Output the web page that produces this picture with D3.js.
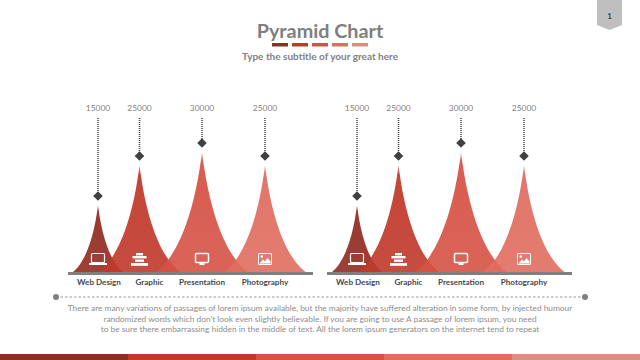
<!DOCTYPE html>
<html>
<head>
<meta charset="utf-8">
<script src="https://cdnjs.cloudflare.com/ajax/libs/d3/7.8.5/d3.min.js"></script>
<style>
  html, body { margin: 0; padding: 0; background: #fff; }
  svg { display: block; font-family: Lato, sans-serif; }
  .value { font-size: 8.4px; fill: #7f7f7f; text-anchor: middle; }
  .cat { font-size: 8.1px; font-weight: 700; fill: #44484f; text-anchor: middle; }
  .body { font-size: 8.35px; fill: #8c8c8c; text-anchor: middle; }
</style>
</head>
<body>
<svg class="chart" width="640" height="360"></svg>
<script>
var categories = ["Web Design", "Graphic", "Presentation", "Photography"];
var valuesLeft = [15000, 25000, 30000, 25000];
var valuesRight = [15000, 25000, 30000, 25000];
var colors = ["#922b21", "#c0392b", "#d65245", "#e06d60", "#e58a80"];
var bodyLines = [
  "There are many variations of passages of lorem ipsum available, but the majority have suffered alteration in some form, by injected humour",
  "randomized words which don't look even slightly believable. If you are going to use A passage of lorem ipsum, you need",
  "to be sure there embarrassing hidden in the middle of text. All the lorem ipsum generators on the internet tend to repeat"
];

var svg = d3.select(".chart");
var baseY = 273;

// peak heights in the picture are not proportional to the values
var y = d3.scaleLinear()
  .domain([0, 15000, 25000, 30000])
  .range([baseY, 205, 165, 152]);

var band = d3.scaleOrdinal()
  .domain(categories)
  .range([98, 139.5, 202, 265]);

// tips fade out a little towards the top
var defs = svg.append("defs");
colors.forEach(function(c, i) {
  var grad = defs.append("linearGradient")
    .attr("id", "fade" + i)
    .attr("x1", 0).attr("x2", 0).attr("y1", 0).attr("y2", 1);
  grad.append("stop").attr("offset", "0%").attr("stop-color", c).attr("stop-opacity", 0.45);
  grad.append("stop").attr("offset", "8%").attr("stop-color", c).attr("stop-opacity", 0.94);
  grad.append("stop").attr("offset", "100%").attr("stop-color", c).attr("stop-opacity", 0.9);
});

function spike(cx, top) {
  var h = baseY - top;
  var hw = h * 0.39;
  var p = d3.path();
  p.moveTo(cx - hw, baseY);
  p.bezierCurveTo(cx - hw * 0.6, baseY - h * 0.1, cx - hw * 0.18, baseY - h * 0.42, cx, top);
  p.bezierCurveTo(cx + hw * 0.18, baseY - h * 0.42, cx + hw * 0.6, baseY - h * 0.1, cx + hw, baseY);
  p.closePath();
  return p.toString();
}

function drawIcon(g, i) {
  var w = "#fff";
  if (i === 0) { // laptop
    g.append("rect").attr("x", -6.5).attr("y", -8.5).attr("width", 13).attr("height", 9).attr("rx", 1)
      .attr("fill", "none").attr("stroke", w).attr("stroke-width", 1.2);
    g.append("rect").attr("x", -9).attr("y", 1).attr("width", 18).attr("height", 2).attr("fill", w);
  } else if (i === 1) { // stacked bars
    g.append("rect").attr("x", -3.5).attr("y", -9).attr("width", 7).attr("height", 2.4).attr("fill", w);
    g.append("rect").attr("x", -7).attr("y", -6).attr("width", 14).attr("height", 2.4).attr("fill", w);
    g.append("rect").attr("x", -4.5).attr("y", -2.5).attr("width", 9).attr("height", 2.4).attr("fill", w);
    g.append("rect").attr("x", -8.5).attr("y", 1).attr("width", 17).attr("height", 2.8).attr("fill", w);
  } else if (i === 2) { // monitor
    g.append("rect").attr("x", -6.5).attr("y", -8.5).attr("width", 13).attr("height", 9).attr("rx", 1)
      .attr("fill", "none").attr("stroke", w).attr("stroke-width", 1.5);
    g.append("rect").attr("x", -2.5).attr("y", 1).attr("width", 5).attr("height", 2).attr("fill", w);
  } else { // picture
    g.append("rect").attr("x", -6.5).attr("y", -8.5).attr("width", 13).attr("height", 11).attr("rx", 0.5)
      .attr("fill", "none").attr("stroke", w).attr("stroke-width", 1);
    g.append("circle").attr("cx", -3.2).attr("cy", -5.5).attr("r", 1.2).attr("fill", w);
    g.append("path").attr("d", "M-5.5,1.5L-2,-2.5L0,-0.5L2.5,-4L5.5,-0.5L5.5,1.5Z").attr("fill", w);
  }
}

function drawPanel(offset, values) {
  var panel = svg.append("g").attr("transform", "translate(" + offset + ",0)");
  var rows = categories.map(function(c, i) {
    return { name: c, value: values[i], i: i };
  });

  panel.selectAll(".spike")
    .data(rows)
    .enter().append("path")
    .attr("class", "spike")
    .attr("d", function(d) { return spike(band(d.name), y(d.value)); })
    .attr("fill", function(d) { return "url(#fade" + d.i + ")"; });

  panel.append("rect")
    .attr("x", 68).attr("y", 272)
    .attr("width", 245).attr("height", 3)
    .attr("fill", "#7f7f7f");

  panel.selectAll(".stem")
    .data(rows)
    .enter().append("line")
    .attr("class", "stem")
    .attr("x1", function(d) { return band(d.name); })
    .attr("x2", function(d) { return band(d.name); })
    .attr("y1", 118)
    .attr("y2", function(d) { return y(d.value) - 8; })
    .attr("stroke", "#404040")
    .attr("stroke-width", 1.5)
    .attr("stroke-dasharray", "1 1");

  panel.selectAll(".tip")
    .data(rows)
    .enter().append("path")
    .attr("class", "tip")
    .attr("d", d3.symbol(d3.symbolSquare, 46))
    .attr("transform", function(d) {
      return "translate(" + band(d.name) + "," + (y(d.value) - 9) + ") rotate(45)";
    })
    .attr("fill", "#404040");

  panel.selectAll(".value")
    .data(rows)
    .enter().append("text")
    .attr("class", "value")
    .attr("x", function(d) { return band(d.name); })
    .attr("y", 111)
    .text(function(d) { return d.value; });

  panel.selectAll(".cat")
    .data(rows)
    .enter().append("text")
    .attr("class", "cat")
    .attr("x", function(d) { return band(d.name) + (d.i === 1 ? 10 : 0) + (d.i === 0 ? 1 : 0); })
    .attr("y", 285)
    .text(function(d) { return d.name; });

  panel.selectAll(".icon")
    .data(rows)
    .enter().append("g")
    .attr("class", "icon")
    .attr("transform", function(d) {
      return "translate(" + band(d.name) + ",262)";
    })
    .each(function(d) { drawIcon(d3.select(this), d.i); });
}

// title block
svg.append("text")
  .attr("x", 320).attr("y", 38)
  .attr("text-anchor", "middle")
  .attr("font-size", 19.8).attr("font-weight", 700)
  .attr("fill", "#7f7f7f")
  .text("Pyramid Chart");

var accent = d3.scaleBand()
  .domain(d3.range(colors.length))
  .range([270, 370])
  .paddingInner(0.2)
  .paddingOuter(0.1);

svg.selectAll(".accent")
  .data(colors)
  .enter().append("rect")
  .attr("class", "accent")
  .attr("x", function(d, i) { return accent(i); })
  .attr("y", 43)
  .attr("width", accent.bandwidth())
  .attr("height", 3.5)
  .attr("fill", function(d) { return d; });

svg.append("text")
  .attr("x", 320).attr("y", 59.5)
  .attr("text-anchor", "middle")
  .attr("font-size", 10).attr("font-weight", 700)
  .attr("fill", "#7f7f7f")
  .text("Type the subtitle of your great here");

// page badge
svg.append("path")
  .attr("d", "M597,0H622V25L609.5,30L597,25Z")
  .attr("fill", "#bfbfbf");
svg.append("text")
  .attr("x", 609.5).attr("y", 19)
  .attr("text-anchor", "middle")
  .attr("font-size", 8).attr("font-weight", 700)
  .attr("fill", "#404040")
  .text("1");

drawPanel(0, valuesLeft);
drawPanel(259, valuesRight);

// divider
svg.append("line")
  .attr("x1", 56).attr("x2", 585)
  .attr("y1", 297).attr("y2", 297)
  .attr("stroke", "#999")
  .attr("stroke-dasharray", "2.5 2");
svg.selectAll(".end")
  .data([56, 585])
  .enter().append("circle")
  .attr("class", "end")
  .attr("cx", function(d) { return d; })
  .attr("cy", 297)
  .attr("r", 3)
  .attr("fill", "#7f7f7f");

svg.selectAll(".body")
  .data(bodyLines)
  .enter().append("text")
  .attr("class", "body")
  .attr("x", 320)
  .attr("y", function(d, i) { return 311 + i * 10.7; })
  .text(function(d) { return d; });

// bottom strip
var strip = d3.scaleBand()
  .domain(d3.range(colors.length))
  .range([0, 640]);

svg.selectAll(".strip")
  .data(colors)
  .enter().append("rect")
  .attr("class", "strip")
  .attr("x", function(d, i) { return strip(i); })
  .attr("y", 354)
  .attr("width", strip.bandwidth())
  .attr("height", 6)
  .attr("fill", function(d) { return d; });
</script>
</body>
</html>
